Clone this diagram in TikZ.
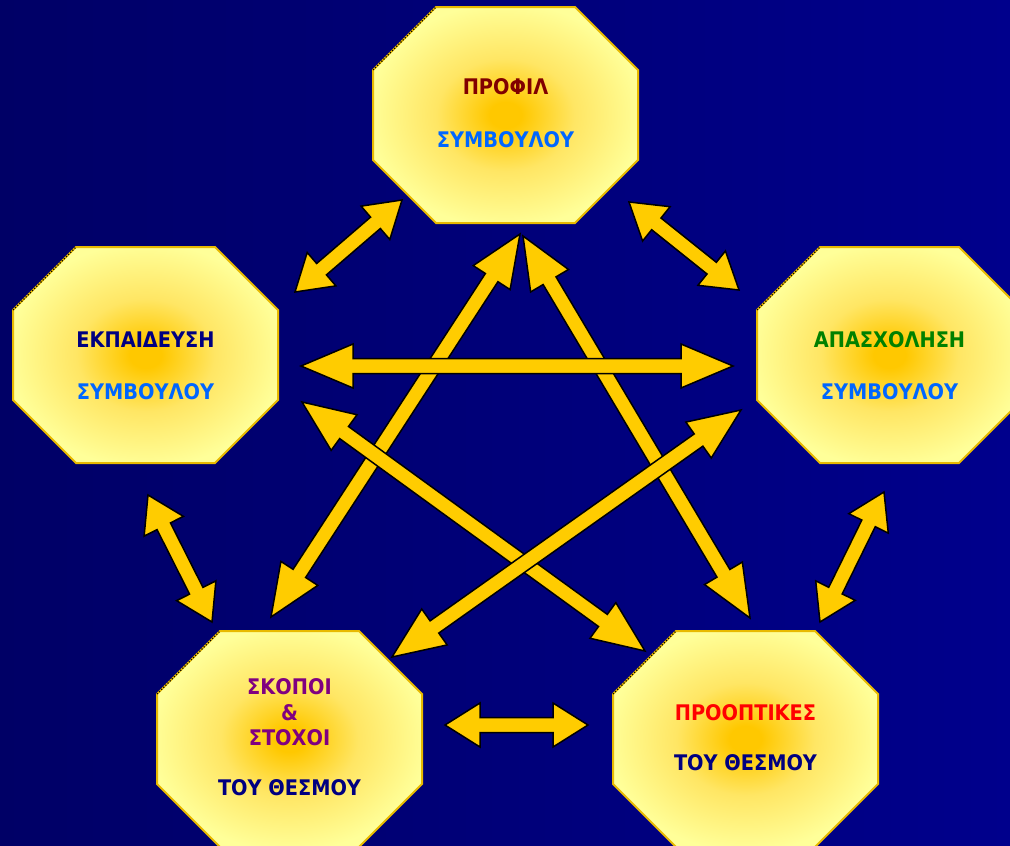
\documentclass[tikz,border=0pt]{standalone}
\usepackage{fontspec}
\newfontfamily\tf{DejaVu Sans}[FakeStretch=0.9]
\usetikzlibrary{calc}

\definecolor{bgl}{RGB}{0,0,102}
\definecolor{bgr}{RGB}{0,0,140}
\definecolor{arrowyellow}{RGB}{255,204,0}
\definecolor{octedge}{RGB}{232,186,0}
\definecolor{octcore}{RGB}{255,200,0}
\definecolor{octmid}{RGB}{255,230,100}
\definecolor{octpale}{RGB}{255,255,153}
\definecolor{cmaroon}{RGB}{128,0,0}
\definecolor{cblue}{RGB}{0,102,255}
\definecolor{cnavy}{RGB}{0,0,128}
\definecolor{cgreen}{RGB}{0,128,0}
\definecolor{cpurple}{RGB}{128,0,128}
\definecolor{cred}{RGB}{255,0,0}

\pgfdeclareradialshading{octshade}{\pgfpoint{0bp}{0bp}}{color(0bp)=(octcore); color(3bp)=(octcore); color(13bp)=(octmid); color(26bp)=(octpale); color(50bp)=(octpale)}

\newcommand\octpath[1]{([shift={(-69.5,-108)}]#1) -- ([shift={(69.5,-108)}]#1) -- ([shift={(132.5,-45)}]#1) -- ([shift={(132.5,45)}]#1) -- ([shift={(69.5,108)}]#1) -- ([shift={(-69.5,108)}]#1) -- ([shift={(-132.5,45)}]#1) -- ([shift={(-132.5,-45)}]#1) -- cycle}
\newcommand\octbox[1]{%
  \shadedraw[octstyle] \octpath{#1};
  \draw[octshadow] ([shift={(-132.5,-45)}]#1) -- ([shift={(-69.5,-108)}]#1);}

\newcommand\hw{22pt}
\newcommand\sw{7.5pt}
\newcommand\dbl[3]{%
  \filldraw[arrowbody] (#1)
   -- ($(#1)!#3!(#2)!\hw!90:(#2)$) -- ($(#1)!#3!(#2)!\sw!90:(#2)$)
   -- ($(#2)!#3!(#1)!\sw!-90:(#1)$) -- ($(#2)!#3!(#1)!\hw!-90:(#1)$)
   -- (#2)
   -- ($(#2)!#3!(#1)!\hw!90:(#1)$) -- ($(#2)!#3!(#1)!\sw!90:(#1)$)
   -- ($(#1)!#3!(#2)!\sw!-90:(#2)$) -- ($(#1)!#3!(#2)!\hw!-90:(#2)$)
   -- cycle;}

\begin{document}
\begin{tikzpicture}[x=1pt,y=-1pt,
  octstyle/.style={shading=octshade, draw=octedge, line width=2pt},
  octshadow/.style={draw=black, line width=1.2pt, dash pattern=on 1.2pt off 1.8pt},
  arrowbody/.style={fill=arrowyellow, draw=black, line width=1.5pt, line join=miter},
  lbl/.style={font=\tf\bfseries\fontsize{21.5}{25}\selectfont, inner sep=0pt, anchor=center}]
\useasboundingbox (0,0) rectangle (1010,846);
\clip (0,0) rectangle (1010,846);
\shade[left color=bgl, right color=bgr] (0,0) rectangle (1010,846);

% box centres
\coordinate (top) at (505.5,115);
\coordinate (lft) at (145.5,355);
\coordinate (rgt) at (889.5,355);
\coordinate (bl) at (289.5,739);
\coordinate (br) at (745.5,739);

% arrow ends
\coordinate (s1a) at (295,292); \coordinate (s1b) at (402,200);
\coordinate (s2a) at (629,202); \coordinate (s2b) at (739,290);
\coordinate (s3a) at (148,495); \coordinate (s3b) at (212,622);
\coordinate (s4a) at (884,492); \coordinate (s4b) at (820,622);
\coordinate (s5a) at (445,725); \coordinate (s5b) at (588,725);
\coordinate (ha) at (301,366); \coordinate (hb) at (733,366);
\coordinate (aa) at (520,234); \coordinate (ab) at (271,617);
\coordinate (ba) at (523,236); \coordinate (bb) at (750,618);
\coordinate (ca) at (302,402); \coordinate (cb) at (645,651);
\coordinate (da) at (741,410); \coordinate (db) at (392,657);

\octbox{top}
\octbox{lft}
\octbox{rgt}
\octbox{bl}
\octbox{br}

\node[lbl, text=cmaroon] (t1a) at (505.5,87) {ΠΡΟΦΙΛ};
\node[lbl, text=cblue] (t1b) at (505.5,140) {ΣΥΜΒΟΥΛΟΥ};
\node[lbl, text=cnavy] (t2a) at (145.5,340) {ΕΚΠΑΙΔΕΥΣΗ};
\node[lbl, text=cblue] (t2b) at (145.5,392) {ΣΥΜΒΟΥΛΟΥ};
\node[lbl, text=cgreen] (t3a) at (889.5,340) {ΑΠΑΣΧΟΛΗΣΗ};
\node[lbl, text=cblue] (t3b) at (889.5,392) {ΣΥΜΒΟΥΛΟΥ};
\node[lbl, text=cpurple] (t4a) at (289.5,687) {ΣΚΟΠΟΙ};
\node[lbl, text=cpurple] (t4b) at (289.5,713) {\&};
\node[lbl, text=cpurple] (t4c) at (289.5,738) {ΣΤΟΧΟΙ};
\node[lbl, text=cnavy] (t4d) at (289.5,788) {ΤΟΥ ΘΕΣΜΟΥ};
\node[lbl, text=cred] (t5a) at (745.5,713) {ΠΡΟΟΠΤΙΚΕΣ};
\node[lbl, text=cnavy] (t5b) at (745.5,763) {ΤΟΥ ΘΕΣΜΟΥ};

% long arrows
\dbl{aa}{ab}{52pt}
\dbl{ba}{bb}{52pt}
\dbl{ca}{cb}{52pt}
\dbl{da}{db}{52pt}
\dbl{ha}{hb}{52pt}
% short arrows
\dbl{s1a}{s1b}{35pt}
\dbl{s2a}{s2b}{35pt}
\dbl{s3a}{s3b}{35pt}
\dbl{s4a}{s4b}{35pt}
\dbl{s5a}{s5b}{35pt}
\end{tikzpicture}
\end{document}
